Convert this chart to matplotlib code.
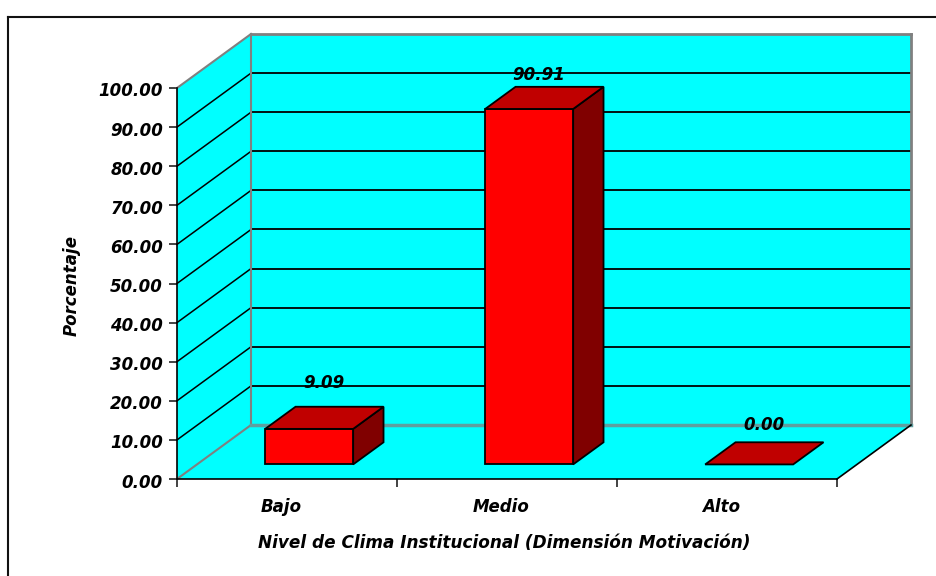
import matplotlib
matplotlib.use('Agg')
import matplotlib.pyplot as plt
from matplotlib.lines import Line2D
from matplotlib.patches import Polygon
from matplotlib.transforms import ScaledTranslation

categories = ['Bajo', 'Medio', 'Alto']
values = [9.09, 90.91, 0.00]
value_labels = ['9.09', '90.91', '0.00']
y_ticks = [0, 10, 20, 30, 40, 50, 60, 70, 80, 90, 100]

W, H = 936, 576
# front plane of the 3d box, in pixels
left, right, bottom, top = 177, 837, 479, 88
depth_x, depth_y = 74, 54

plt.rcParams['font.family'] = ['DejaVu Sans']
plt.rcParams['font.weight'] = 'bold'
plt.rcParams['font.style'] = 'italic'

fig = plt.figure(figsize=(W / 100, H / 100), dpi=100)
ax = fig.add_axes([left / W, 1 - bottom / H, (right - left) / W, (bottom - top) / H])
ax.set_xlim(0, 3)
ax.set_ylim(0, 100)
ax.patch.set_visible(False)

# x units and y units per pixel, used for the fake depth
ux = 3 / (right - left)
uy = 100 / (bottom - top)


def proj(x, v, z):
    return (x + z * depth_x * ux, v + z * depth_y * uy)


def face(pts, color, edge='black', lw=1.3, zorder=2):
    ax.add_patch(Polygon([proj(*p) for p in pts], closed=True, facecolor=color, edgecolor=edge,
                         lw=lw, zorder=zorder, clip_on=False, joinstyle='miter'))


def seg(a, b, color='black', lw=1.2, zorder=3):
    p, q = proj(*a), proj(*b)
    ax.plot([p[0], q[0]], [p[1], q[1]], color=color, lw=lw, zorder=zorder, clip_on=False)


# walls and floor
cyan = '#00ffff'
face([(0, 0, 1), (3, 0, 1), (3, 100, 1), (0, 100, 1)], cyan, edge='none', zorder=1)
face([(0, 0, 0), (0, 0, 1), (0, 100, 1), (0, 100, 0)], cyan, edge='none', zorder=1)
face([(0, 0, 0), (3, 0, 0), (3, 0, 1), (0, 0, 1)], cyan, edge='none', zorder=1)

for t in y_ticks[1:-1]:
    seg((0, t, 0), (0, t, 1), lw=1.1)
    seg((0, t, 1), (3, t, 1), lw=1.3)

gray = '#808080'
seg((0, 100, 0), (0, 100, 1), gray, 1.5)
seg((0, 100, 1), (3, 100, 1), gray, 2)
seg((0, 0, 1), (0, 100, 1), gray, 1.5)
seg((3, 0, 1), (3, 100, 1), gray, 2)
seg((0, 0, 0), (0, 0, 1), gray, 1.5)
seg((0, 0, 1), (3, 0, 1), '#5f9f9f', 2.5)
seg((3, 0, 0), (3, 0, 1), 'black', 1.2)

# bars
bar_w = 0.4
z0, z1 = 0.27, 0.68
label_up = [35, 23, 28]
label_dx = [0, -6, 0]
for i, v in enumerate(values):
    x0 = i + 0.51 - bar_w / 2
    x1 = x0 + bar_w
    if v > 0:
        face([(x1, 0, z0), (x1, 0, z1), (x1, v, z1), (x1, v, z0)], '#800000', zorder=5)
        face([(x0, 0, z0), (x1, 0, z0), (x1, v, z0), (x0, v, z0)], '#ff0000', zorder=5)
    face([(x0, v, z0), (x1, v, z0), (x1, v, z1), (x0, v, z1)], '#c00000', zorder=6)
    ax.annotate(value_labels[i], proj(i + 0.51, v, (z0 + z1) / 2),
                xytext=(label_dx[i] * 0.72, label_up[i] * 0.72),
                textcoords='offset points', ha='center', va='center', fontsize=12, zorder=7,
                annotation_clip=False)

# axes
for side in ['top', 'right']:
    ax.spines[side].set_visible(False)
for side in ['left', 'bottom']:
    ax.spines[side].set_linewidth(1.2)
    ax.spines[side].set_zorder(4)
ax.set_yticks(y_ticks)
ax.set_yticklabels(['%.2f' % t for t in y_ticks], fontsize=12)
ax.set_xticks(range(4))
ax.set_xticklabels([])
ax.tick_params(axis='both', length=6, width=1.2, color='#222222', pad=4)

# tick labels sit a bit below their ticks in the reference
shift = ScaledTranslation(0, -1.5 / 100, fig.dpi_scale_trans)
for lab in ax.get_yticklabels():
    lab.set_transform(lab.get_transform() + shift)

for i, c in enumerate(categories):
    ax.annotate(c, (i + 0.5, 0), xytext=(-4, -27.5 * 0.72), textcoords='offset points',
                ha='center', va='center', fontsize=12, annotation_clip=False)

fig.text(504 / W, 1 - 543 / H, 'Nivel de Clima Institucional (Dimensión Motivación)',
         ha='center', va='center', fontsize=12.2)
fig.text(72 / W, 1 - 285 / H, 'Porcentaje', ha='center', va='center', rotation=90, fontsize=12)

# chart frame, only top and left are inside the picture
fig.add_artist(Line2D([8 / W, 8 / W], [0, 1 - 17 / H], color='#111111', lw=1.5))
fig.add_artist(Line2D([8 / W, 1], [1 - 17 / H, 1 - 17 / H], color='#111111', lw=1.5))

fig.savefig('out.png', dpi=100)
